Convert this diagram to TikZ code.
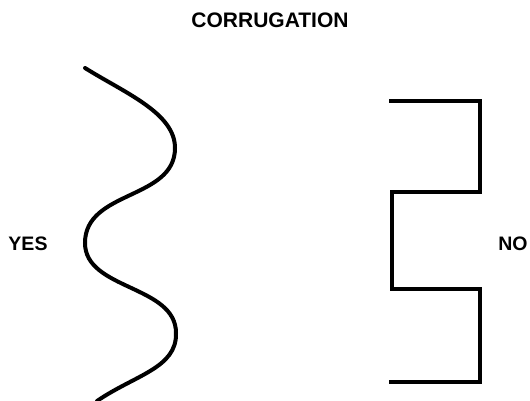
\documentclass[tikz,border=0pt]{standalone}
\usepackage{fontspec}
\setmainfont{Liberation Sans}
\tikzset{
  label text/.style={font=\fontsize{19.5}{22}\selectfont\bfseries, inner sep=0pt, anchor=center},
  title text/.style={font=\fontsize{21}{24}\selectfont\bfseries, inner sep=0pt, anchor=center},
  profile/.style={line width=4pt, black}
}
\begin{document}
\begin{tikzpicture}[x=1pt, y=-1pt]
  \useasboundingbox (0,0) rectangle (530,401);
  % captions
  \node[title text] (title) at (270,20.5) {CORRUGATION};
  \node[label text] (yes) at (28,244) {YES};
  \node[label text] (no) at (513,244) {NO};
  % smooth wavy profile
  \draw[profile, line cap=round]
    (85,68) .. controls (125,93) and (175,113) .. (175,148)
            .. controls (175,200) and (85,190) .. (85,243)
            .. controls (85,290) and (176,285) .. (176,333)
            .. controls (177,368) and (135,375) .. (97,401);
  % squared profile
  \draw[profile, line join=miter] (389,101) -- (480,101) -- (480,192) -- (392,192)
    -- (392,289) -- (480,289) -- (480,382) -- (389,382);
\end{tikzpicture}
\end{document}
